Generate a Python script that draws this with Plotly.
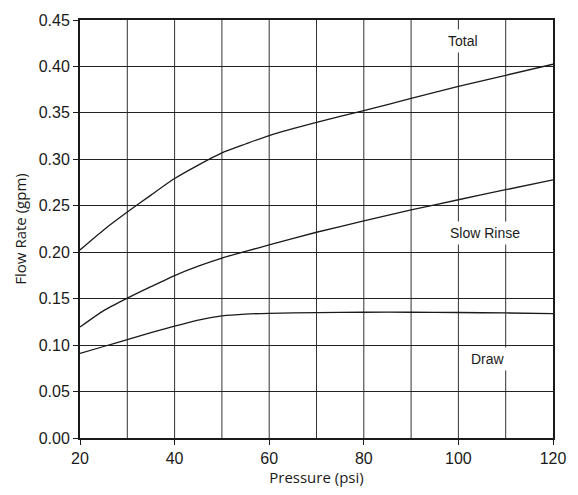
import plotly.graph_objects as go

pressure = [20, 25, 30, 35, 40, 45, 50, 55, 60, 70, 80, 90, 100, 110, 120]
total = [0.2025, 0.2240, 0.2432, 0.2615, 0.2793, 0.2938, 0.3069, 0.3165, 0.3256, 0.3398, 0.3525, 0.3655, 0.3785, 0.3905, 0.4024]
slow_rinse = [0.1194, 0.1371, 0.1505, 0.1629, 0.1749, 0.1850, 0.1937, 0.2010, 0.2078, 0.2215, 0.2337, 0.2455, 0.2565, 0.2673, 0.2779]
draw = [0.0910, 0.0985, 0.1059, 0.1135, 0.1205, 0.1270, 0.1314, 0.1334, 0.1342, 0.1350, 0.1354, 0.1354, 0.1351, 0.1346, 0.1340]

labels = ["Total", "Slow Rinse", "Draw"]
label_x = [101, 105.6, 106.2]
label_y = [0.427, 0.221, 0.0846]

FONT = "Liberation Sans, Arial, sans-serif"
TFONT = "Open Sans, sans-serif"
INK = "#1a1a1a"

fig = go.Figure()
for ys in (total, slow_rinse, draw):
    fig.add_trace(go.Scatter(x=pressure, y=ys, mode="lines",
                             line=dict(color=INK, width=1.3, shape="spline", smoothing=0.6),
                             showlegend=False, hoverinfo="skip"))

for t, lx, ly in zip(labels, label_x, label_y):
    fig.add_annotation(x=lx, y=ly, text=t, showarrow=False, bgcolor="white",
                       font=dict(family=FONT, size=14, color=INK), borderpad=3)

fig.update_xaxes(range=[20, 120], tickvals=[20, 40, 60, 80, 100, 120],
                 showgrid=False, ticks="outside", ticklen=5, tickcolor=INK,
                 showline=True, linecolor=INK, linewidth=2, mirror=True,
                 tickfont=dict(family=FONT, size=16, color=INK),
                 title=dict(text="Pressure (psi)", standoff=2,
                            font=dict(family=TFONT, size=15, color=INK)),
                 zeroline=False)
fig.update_yaxes(range=[0, 0.45], tickvals=[0, 0.05, 0.10, 0.15, 0.20, 0.25, 0.30, 0.35, 0.40, 0.45],
                 tickformat=".2f", showgrid=True, gridcolor="#222222", gridwidth=1,
                 ticks="outside", ticklen=5, tickcolor=INK,
                 showline=True, linecolor=INK, linewidth=2, mirror=True,
                 tickfont=dict(family=FONT, size=16, color=INK),
                 title=dict(text="Flow Rate (gpm)", standoff=8,
                            font=dict(family=TFONT, size=15, color=INK)),
                 zeroline=False)

for gx in range(30, 120, 10):
    fig.add_shape(type="line", x0=gx, x1=gx, y0=0, y1=0.45, xref="x", yref="y",
                  line=dict(color="#333333", width=1), layer="below")

fig.update_layout(width=578, height=495, margin=dict(l=80, r=21, t=14, b=57),
                  plot_bgcolor="white", paper_bgcolor="white")

fig.write_html("out.html", config={"displayModeBar": False},
               post_script="document.body.style.margin='0px';")
